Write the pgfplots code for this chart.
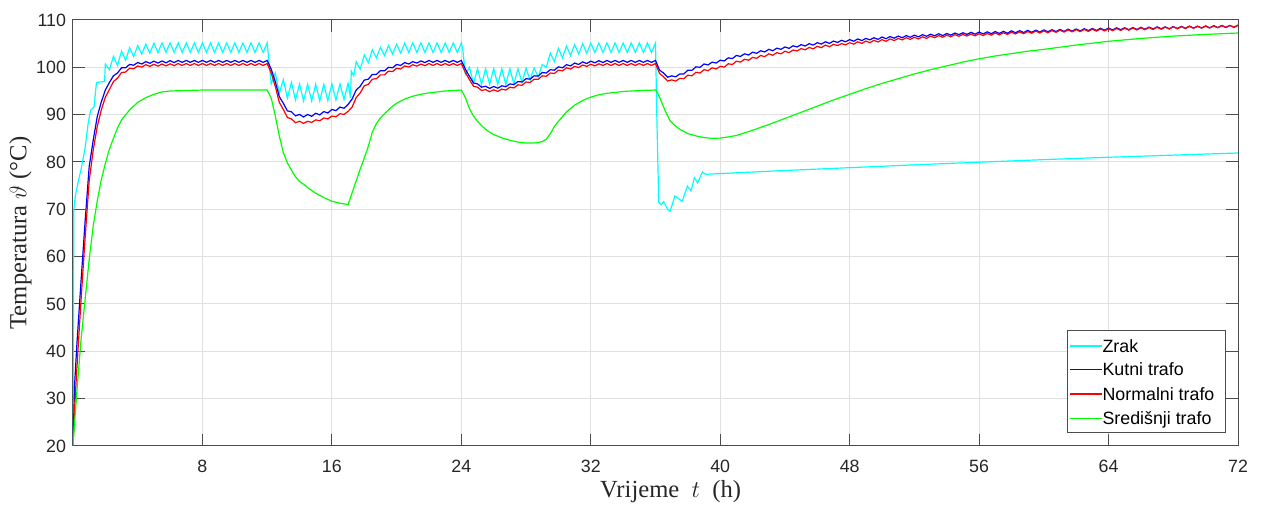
\documentclass[border=0pt]{standalone}
\usepackage{fontspec}
\setmainfont{Liberation Serif}
\newfontfamily\arialfont{Liberation Sans}
\usepackage{pgfplots}
\pgfplotsset{compat=1.18}
\definecolor{mcyan}{rgb}{0,1,1}
\definecolor{mblue}{rgb}{0,0,1}
\definecolor{mred}{rgb}{1,0,0}
\definecolor{mgreen}{rgb}{0,1,0}
\begin{document}
\begin{tikzpicture}
\begin{axis}[
 scale only axis, width=582.5pt, height=213pt,
 xmin=0, xmax=72, ymin=20, ymax=110,
 xtick={8,16,...,72}, ytick={20,30,...,110},
 tick align=inside, major tick length=6pt,
 grid=major, grid style={black!12, line width=0.5pt},
 axis line style={black!70, line width=0.5pt},
 every tick/.style={black!70, line width=0.5pt},
 tick label style={font=\arialfont\fontsize{8.9}{10}\selectfont, text=black!85},
 xticklabel style={yshift=-3.5pt},
 /pgf/number format/assume math mode=true,
 xlabel={Vrijeme\ \ $t$\ \ (h)},
 ylabel={Temperatura $\vartheta$ (°C)},
 label style={font=\fontsize{12.3}{14}\selectfont, text=black!85},
 xlabel style={at={(axis description cs:0.513,-0.108)}, anchor=center},
 ylabel style={at={(axis description cs:-0.0451,0.5)}, anchor=center},
]
\addplot[draw=mcyan, line width=0.6pt] coordinates {
(0,20)(0.05,70)(0.15,73)(0.3,75.5)(0.5,78.5)(0.75,83)(0.95,88.5)(1.1,91)(1.3,91.6)(1.45,96.8)(1.95,97)(2,100.7)(2.25,99.5)(2.5,102.3)(2.75,100.4)(3,103.4)(3.25,101.5)(3.5,104.1)(3.75,102.3)(4,104.6)(4.25,102.8)(4.5,104.9)(4.75,103)(5,105.1)(5.25,103.1)
(5.5,105.15)(5.75,103.15)(6,105.15)(6.25,103.15)(6.5,105.15)(6.75,103.15)(7,105.15)(7.25,103.15)(7.5,105.15)(7.75,103.15)(8,105.15)(8.25,103.15)(8.5,105.15)(8.75,103.15)(9,105.15)(9.25,103.15)(9.5,105.15)(9.75,103.15)(10,105.15)(10.25,103.15)(10.5,105.15)(10.75,103.15)(11,105.15)(11.25,103.15)(11.5,105.15)(11.75,103.15)(12,105.15)
(12.25,96.5)(12.5,98.8)(12.75,94.5)(13,97.4)(13.25,93.5)(13.5,96.8)(13.75,93.1)(14,96.5)(14.25,92.9)(14.5,96.4)(14.75,92.9)(15,96.4)(15.25,92.9)(15.5,96.4)(15.75,93)(16,96.5)(16.25,93.1)(16.5,96.5)(16.75,93.2)(17,96.6)(17.15,93.5)(17.2,99.2)(17.35,98.2)(17.5,101.2)(17.75,99.6)(18,102.6)(18.25,101)(18.5,103.7)(18.75,102)(19,104.2)(19.25,102.5)(19.5,104.6)(19.75,102.8)(20,104.9)(20.25,103)(20.5,105.1)(20.75,103.15)(21,105.15)(21.25,103.15)(21.5,105.15)(21.75,103.15)(22,105.15)(22.25,103.15)(22.5,105.15)(22.75,103.15)(23,105.15)(23.25,103.15)(23.5,105.15)(23.75,103.15)(24,105.15)
(24.1,103.5)(24.25,98.5)(24.5,100)(24.75,96.6)(25,99.7)(25.25,96.4)(25.5,99.7)(25.75,96.4)(26,99.7)(26.25,96.4)(26.5,99.7)(26.75,96.4)(27,99.7)(27.25,96.5)(27.5,99.7)(27.75,96.8)(28,99.8)(28.25,97.3)(28.5,99.9)(28.75,97.9)(29,100.6)(29.25,100)(29.5,103)(29.75,101.2)(30,104)(30.25,102)(30.5,104.5)(30.75,102.5)(31,104.8)(31.25,102.8)(31.5,105)(31.75,103)(32,105.1)(32.25,103.15)(32.5,105.15)(32.75,103.15)(33,105.15)(33.25,103.15)(33.5,105.15)(33.75,103.15)(34,105.15)(34.25,103.15)(34.5,105.15)(34.75,103.15)(35,105.15)(35.25,103.15)(35.5,105.15)(35.75,103.15)(36,105.15)
(36.08,90)(36.2,71.5)(36.35,71)(36.5,71.6)(36.75,70)(36.9,69.6)(37.2,72.8)(37.65,71.7)(37.97,74.9)(38.2,73.9)(38.4,76.7)(38.6,75.6)(38.9,77.9)(39.1,77.4)(40,77.55)(44,78.2)(48,78.8)(52,79.4)(56,79.95)(60,80.5)(64,81)(68,81.45)(72,81.9)
};
\addplot[draw=mblue, line width=0.6pt] coordinates {
(0,20)(0.1,33)(0.25,42)(0.5,55)(0.75,67.5)(1,79)(1.25,84.6)(1.5,89.6)(1.75,92.7)(2,95.2)(2.25,96.8)(2.5,98.2)(2.75,98.8)(3,99.9)(3.25,99.9)(3.5,100.6)(3.75,100.45)(4,101)(4.25,100.7)(4.5,101.2)(4.75,100.85)(5,101.3)(5.25,100.9)(5.5,101.35)(5.75,100.95)(6,101.4)(6.25,101)
(6.5,101.45)(6.75,101.05)(7,101.45)(7.25,101.05)(7.5,101.45)(7.75,101.05)(8,101.45)(8.25,101.05)(8.5,101.45)(8.75,101.05)(9,101.45)(9.25,101.05)(9.5,101.45)(9.75,101.05)(10,101.45)(10.25,101.05)(10.5,101.45)(10.75,101.05)(11,101.45)(11.25,101.05)(11.5,101.45)(11.75,101.05)(12,101.45)
(12.25,99.6)(12.5,97)(12.75,93.8)(13,92.4)(13.25,90.8)(13.5,90.6)(13.75,89.75)(14,90.05)(14.25,89.5)(14.5,90.05)(14.75,89.65)(15,90.3)(15.25,89.95)(15.5,90.65)(15.75,90.35)(16,91.1)(16.25,90.85)(16.5,91.6)(16.75,91.35)(17,92.15)(17.25,93.3)(17.5,95.2)(17.75,96)(18,97.3)(18.25,97.5)(18.5,98.5)(18.75,98.5)(19,99.3)(19.25,99.25)(19.5,100)(19.75,99.9)(20,100.6)(20.25,100.4)(20.5,101)(20.75,100.7)(21,101.2)(21.25,100.9)(21.5,101.35)(21.75,101)(22,101.45)(22.25,101.05)(22.5,101.45)(22.75,101.05)(23,101.45)(23.25,101.05)(23.5,101.45)(23.75,101.05)(24,101.45)
(24.25,99.6)(24.5,98.1)(24.75,96.7)(25,96.5)(25.25,95.8)(25.5,96)(25.75,95.55)(26,95.95)(26.25,95.6)(26.5,96.1)(26.75,95.9)(27,96.5)(27.25,96.35)(27.5,97)(27.75,96.9)(28,97.6)(28.25,97.5)(28.5,98.2)(28.75,98.15)(29,98.9)(29.25,98.8)(29.5,99.5)(29.75,99.4)(30,100.1)(30.25,99.9)(30.5,100.55)(30.75,100.3)(31,100.9)(31.25,100.6)(31.5,101.15)(31.75,100.8)(32,101.3)(32.25,100.95)(32.5,101.4)(32.75,101)(33,101.45)(33.25,101.05)(33.5,101.45)(33.75,101.05)(34,101.45)(34.25,101.05)(34.5,101.45)(34.75,101.05)(35,101.45)(35.25,101.05)(35.5,101.45)(35.75,101.05)(36,101.45)
(36.25,99.4)(36.5,98.8)(36.75,97.9)(37,98.2)(37.25,98)(37.5,98.6)(37.75,98.6)(38,99.4)(38.25,99.35)(38.5,100.1)(38.75,100)(39,100.7)(39.25,100.5)(39.5,101.1)(39.75,100.9)(40,101.5)(40.25,101.35)(40.5,102)(40.75,101.85)(41,102.5)(41.25,102.3)(41.5,102.85)(41.75,102.6)(42,103.2)(42.25,102.95)(42.5,103.5)(42.75,103.25)(43,103.8)(43.25,103.5)(43.5,104.05)(43.75,103.8)(44,104.3)(44.25,104)(44.5,104.55)(44.75,104.3)(45,104.8)(45.25,104.5)(45.5,105)(45.75,104.7)(46,105.2)(46.25,104.9)(46.5,105.4)(46.75,105.05)(47,105.55)(47.25,105.25)(47.5,105.7)(47.75,105.4)(48,105.85)
(48.25,105.5)(48.5,106)(48.75,105.65)(49,106.1)(49.25,105.8)(49.5,106.25)(49.75,105.9)(50,106.4)(50.25,106.05)(50.5,106.5)(50.75,106.15)(51,106.6)(51.25,106.25)(51.5,106.7)(51.75,106.35)(52,106.8)(52.25,106.45)(52.5,106.9)(52.75,106.55)(53,107)(53.25,106.65)(53.5,107.1)(53.75,106.7)(54,107.15)(54.25,106.8)(54.5,107.25)(54.75,106.9)(55,107.3)(55.25,106.95)(55.5,107.4)(55.75,107)(56,107.45)(56.25,107.05)(56.5,107.5)(56.75,107.1)(57,107.55)(57.25,107.15)(57.5,107.6)(57.75,107.2)(58,107.7)(58.25,107.3)(58.5,107.75)(58.75,107.35)(59,107.8)(59.25,107.4)(59.5,107.85)(59.75,107.45)(60,107.9)
(60.25,107.5)(60.5,107.95)(60.75,107.55)(61,108)(61.25,107.6)(61.5,108.05)(61.75,107.65)(62,108.1)(62.25,107.7)(62.5,108.15)(62.75,107.75)(63,108.2)(63.25,107.8)(63.5,108.25)(63.75,107.85)(64,108.3)(64.25,107.9)(64.5,108.35)(64.75,107.95)(65,108.35)(65.25,107.95)(65.5,108.4)(65.75,108)(66,108.45)(66.25,108.05)(66.5,108.5)(66.75,108.1)(67,108.55)(67.25,108.15)(67.5,108.55)(67.75,108.15)(68,108.6)(68.25,108.2)(68.5,108.65)(68.75,108.25)(69,108.7)(69.25,108.3)(69.5,108.7)(69.75,108.3)(70,108.75)(70.25,108.35)(70.5,108.8)(70.75,108.4)(71,108.85)(71.25,108.45)(71.5,108.85)(71.75,108.45)(72,108.9)
};
\addplot[draw=mred, line width=0.6pt] coordinates {
(0,20)(0.1,28)(0.25,37)(0.5,51)(0.75,64)(1,76)(1.25,82.5)(1.5,87.5)(1.75,91)(2,93.7)(2.25,95.3)(2.5,97)(2.75,97.7)(3,98.9)(3.25,99)(3.5,99.8)(3.75,99.7)(4,100.3)(4.25,100.05)(4.5,100.55)(4.75,100.2)(5,100.65)(5.25,100.25)(5.5,100.7)(5.75,100.3)(6,100.75)(6.25,100.35)
(6.5,100.8)(6.75,100.4)(7,100.8)(7.25,100.4)(7.5,100.8)(7.75,100.4)(8,100.8)(8.25,100.4)(8.5,100.8)(8.75,100.4)(9,100.8)(9.25,100.4)(9.5,100.8)(9.75,100.4)(10,100.8)(10.25,100.4)(10.5,100.8)(10.75,100.4)(11,100.8)(11.25,100.4)(11.5,100.8)(11.75,100.4)(12,100.8)
(12.25,98.8)(12.5,96)(12.75,92.6)(13,91.1)(13.25,89.4)(13.5,89.1)(13.75,88.3)(14,88.6)(14.25,88.15)(14.5,88.6)(14.75,88.35)(15,88.9)(15.25,88.7)(15.5,89.3)(15.75,89.1)(16,89.7)(16.25,89.55)(16.5,90.2)(16.75,90.05)(17,90.7)(17.25,91.6)(17.5,93.6)(17.75,94.6)(18,96.1)(18.25,96.4)(18.5,97.5)(18.75,97.6)(19,98.4)(19.25,98.4)(19.5,99.2)(19.75,99.1)(20,99.8)(20.25,99.65)(20.5,100.3)(20.75,100.05)(21,100.55)(21.25,100.25)(21.5,100.7)(21.75,100.35)(22,100.8)(22.25,100.4)(22.5,100.8)(22.75,100.4)(23,100.8)(23.25,100.4)(23.5,100.8)(23.75,100.4)(24,100.8)
(24.25,98.9)(24.5,97.4)(24.75,96)(25,95.8)(25.25,95.1)(25.5,95.3)(25.75,94.85)(26,95.25)(26.25,94.9)(26.5,95.4)(26.75,95.2)(27,95.8)(27.25,95.65)(27.5,96.3)(27.75,96.2)(28,96.9)(28.25,96.8)(28.5,97.5)(28.75,97.45)(29,98.2)(29.25,98.1)(29.5,98.8)(29.75,98.7)(30,99.4)(30.25,99.25)(30.5,99.9)(30.75,99.65)(31,100.2)(31.25,99.95)(31.5,100.5)(31.75,100.2)(32,100.65)(32.25,100.3)(32.5,100.75)(32.75,100.4)(33,100.8)(33.25,100.4)(33.5,100.8)(33.75,100.4)(34,100.8)(34.25,100.4)(34.5,100.8)(34.75,100.4)(35,100.8)(35.25,100.4)(35.5,100.8)(35.75,100.4)(36,100.8)
(36.25,98.7)(36.5,98)(36.75,97.1)(37,97.35)(37.25,97.1)(37.5,97.65)(37.75,97.6)(38,98.35)(38.25,98.2)(38.5,98.95)(38.75,98.8)(39,99.5)(39.25,99.3)(39.5,99.9)(39.75,99.65)(40,100.2)(40.25,100.05)(40.5,100.75)(40.75,100.6)(41,101.3)(41.25,101.1)(41.5,101.7)(41.75,101.5)(42,102.1)(42.25,101.9)(42.5,102.5)(42.75,102.25)(43,102.85)(43.25,102.55)(43.5,103.1)(43.75,102.85)(44,103.4)(44.25,103.1)(44.5,103.65)(44.75,103.45)(45,103.95)(45.25,103.7)(45.5,104.2)(45.75,103.9)(46,104.45)(46.25,104.15)(46.5,104.7)(46.75,104.35)(47,104.85)(47.25,104.6)(47.5,105)(47.75,104.75)(48,105.2)
(48.25,104.9)(48.5,105.4)(48.75,105.05)(49,105.55)(49.25,105.2)(49.5,105.7)(49.75,105.35)(50,105.85)(50.25,105.5)(50.5,106)(50.75,105.65)(51,106.1)(51.25,105.8)(51.5,106.25)(51.75,105.9)(52,106.35)(52.25,106)(52.5,106.45)(52.75,106.1)(53,106.6)(53.25,106.25)(53.5,106.7)(53.75,106.35)(54,106.8)(54.25,106.45)(54.5,106.9)(54.75,106.55)(55,106.95)(55.25,106.6)(55.5,107.05)(55.75,106.65)(56,107.1)(56.25,106.7)(56.5,107.15)(56.75,106.8)(57,107.25)(57.25,106.85)(57.5,107.3)(57.75,106.95)(58,107.4)(58.25,107.05)(58.5,107.5)(58.75,107.1)(59,107.55)(59.25,107.2)(59.5,107.65)(59.75,107.25)(60,107.7)
(60.25,107.3)(60.5,107.75)(60.75,107.4)(61,107.85)(61.25,107.45)(61.5,107.9)(61.75,107.5)(62,107.95)(62.25,107.55)(62.5,108)(62.75,107.6)(63,108.05)(63.25,107.65)(63.5,108.1)(63.75,107.7)(64,108.15)(64.25,107.75)(64.5,108.2)(64.75,107.8)(65,108.25)(65.25,107.85)(65.5,108.3)(65.75,107.9)(66,108.35)(66.25,107.95)(66.5,108.4)(66.75,108)(67,108.45)(67.25,108.05)(67.5,108.5)(67.75,108.1)(68,108.55)(68.25,108.15)(68.5,108.6)(68.75,108.2)(69,108.65)(69.25,108.25)(69.5,108.65)(69.75,108.3)(70,108.7)(70.25,108.3)(70.5,108.75)(70.75,108.35)(71,108.8)(71.25,108.4)(71.5,108.85)(71.75,108.45)(72,108.9)
};
\addplot[draw=mgreen, line width=0.6pt] coordinates {
(0,20)(0.1,25)(0.25,32)(0.5,42.6)(0.75,51)(1,59.4)(1.25,66.5)(1.5,71.8)(1.75,76.3)(2,79.7)(2.25,82.7)(2.5,85)(2.75,87.2)(3,88.9)(3.5,91)(4,92.6)(4.5,93.6)(5,94.3)(5.5,94.8)(6,95)(7,95.1)(8,95.2)(12,95.2)
(12.25,93.5)(12.5,89.8)(12.75,85.5)(13,82)(13.25,79.8)(13.5,78.3)(13.75,76.9)(14,75.9)(14.25,75.3)(14.5,74.6)(14.75,74)(15,73.4)(15.5,72.5)(16,71.7)(16.5,71.3)(17,71)(17.25,73.5)(17.5,76)(17.75,78.5)(18,80.8)(18.25,83.3)(18.5,86.3)(18.75,88.1)(19,89.3)(19.25,90.2)(19.5,91)(19.75,91.8)(20,92.4)(20.5,93.3)(21,93.9)(21.5,94.3)(22,94.6)(22.5,94.8)(23,95)(23.5,95.1)(24,95.2)
(24.25,93.6)(24.5,91.3)(24.75,89.7)(25,88.6)(25.25,87.7)(25.5,86.9)(25.75,86.3)(26,85.8)(26.5,85.1)(27,84.6)(27.5,84.2)(28,84)(28.5,84)(29,84.3)(29.25,84.8)(29.5,86)(29.75,87.5)(30,88.6)(30.5,90.6)(31,92)(31.5,93)(32,93.7)(32.5,94.2)(33,94.5)(33.5,94.7)(34,94.9)(35,95.1)(36,95.2)
(36.1,94.8)(36.3,93.3)(36.6,90.8)(36.9,88.7)(37.2,87.7)(37.5,86.9)(38,86)(38.5,85.5)(39,85.15)(39.5,85)(40,85.05)(40.5,85.3)(41,85.6)(42,86.7)(43,87.9)(44,89.2)(45,90.5)(46,91.8)(47,93.1)(48,94.3)(49,95.5)(50,96.6)(51,97.6)(52,98.6)(53,99.5)(54,100.3)(55,101.1)(56,101.8)(57,102.4)(58,102.9)(59,103.4)(60,103.8)(62,104.7)(64,105.5)(66,106.1)(68,106.6)(70,106.95)(72,107.25)
};
\end{axis}
\begin{scope}[shift={(current axis.south west)}, every node/.style={anchor=base west, inner sep=0pt, font=\arialfont\fontsize{8.9}{10}\selectfont}]
\filldraw[draw=black!70, fill=white, line width=0.5pt] (497pt,6.5pt) rectangle (576pt,57.5pt);
\draw[draw=mcyan, line width=0.6pt] (498.5pt,50pt) -- (514.4pt,50pt);
\draw[draw=mblue, line width=0.6pt] (498.5pt,38.35pt) -- (514.4pt,38.35pt);
\draw[draw=mred, line width=0.6pt] (498.5pt,26pt) -- (514.4pt,26pt);
\draw[draw=mgreen, line width=0.6pt] (498.5pt,13.85pt) -- (514.4pt,13.85pt);
\node at (514.6pt,46.9pt) {Zrak};
\node at (514.6pt,35.25pt) {Kutni trafo};
\node at (514.6pt,22.9pt) {Normalni trafo};
\node at (514.6pt,10.75pt) {Središnji trafo};
\end{scope}
\pgfresetboundingbox
\path ([xshift=-36.5pt,yshift=-29.5pt]current axis.south west) rectangle ([xshift=12pt,yshift=10pt]current axis.north east);
\end{tikzpicture}
\end{document}
